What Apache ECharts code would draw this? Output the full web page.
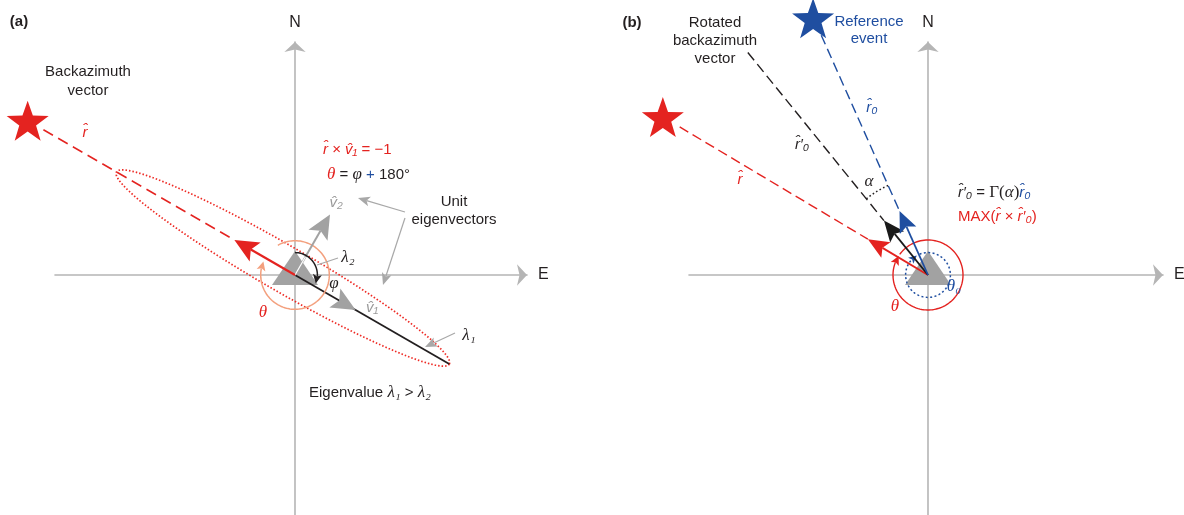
<!DOCTYPE html>
<html>
<head>
<meta charset="utf-8">
<script src="https://cdn.jsdelivr.net/npm/echarts@6/dist/echarts.min.js"></script>
<style>
  html, body { margin: 0; padding: 0; background: #fff; }
  #chart { width: 1184px; height: 515px; }
</style>
</head>
<body>
<div id="chart"></div>
<script>
// directions are azimuths (deg clockwise from N), lengths are in unit-vector lengths

// (a) backazimuth vector and eigenvectors of one event
const aBackAz = 300;               // theta, azimuth of r-hat
const aEigenAz = [120, 30];        // v1-hat, v2-hat
const aSemiAxes = [2.745, 0.33];   // ellipse lambda1, lambda2
const aEllipseCentre = -0.2;       // centre shift along v1-hat
const aStar = [300, 4.41];         // [azimuth, distance]
const aDashed = [4.15, 1];         // dashed r-hat from, to
const aV1Line = 2.545;             // black v1 line to ellipse tip
const aPhiArc = [0, 112, 0.32];    // [from az, to az, radius]
const aThetaArc = [330, 653, 0.49];
const aPointers = [                // grey leader arrows [x0, y0, x1, y1, head]
  [1.571, 0.9, 0.9, 1.1, 1],
  [1.571, 0.814, 1.257, -0.143, 1],
  [0.614, 0.243, 0.314, 0.143, 0],
  [2.286, -0.829, 1.857, -1.029, 1]
];

// (b) rotation towards the reference event
const bVectorAz = [300.8, 321, 336];       // r-hat, rotated r0, reference r0
const bDashedFrom = [4.13, 4.09, 3.75];
const bStars = [[300.8, 4.41], [335.9, 4.02]];
const bThetaCircle = [0.5, 303];           // radius, arrow azimuth
const bTheta0Circle = [0.32, 330];
const bAlphaArc = [321, 336, 1.4];

const RED = '#e42320', BLUE = '#1f4ea0', DARK = '#231f20', AXIS = '#b5b5b5',
      GRAY = '#a2a2a2', LEAD = '#a8a8a8', ORANGE = '#f3a07e';
const SANS = '"Liberation Sans", Arial, sans-serif';
const SERIF = '"Liberation Serif", "Times New Roman", serif';
const UNIT = 70;  // px per unit length

function pol(az, r) {
  const t = az * Math.PI / 180;
  return [r * Math.sin(t), r * Math.cos(t)];
}
function dirPx(az) {
  const t = az * Math.PI / 180;
  return [Math.sin(t), -Math.cos(t)];
}
function headShape(tip, d, len, hw, notch, color) {
  const px = -d[1], py = d[0];
  const bx = tip[0] - d[0] * len, by = tip[1] - d[1] * len;
  const nx = tip[0] - d[0] * (len - notch), ny = tip[1] - d[1] * (len - notch);
  return { type: 'polygon', shape: { points: [tip, [bx + px * hw, by + py * hw], [nx, ny], [bx - px * hw, by - py * hw]] },
           style: { fill: color, stroke: null } };
}
function seg(api, a, b, color, width, dash) {
  const p = api.coord(a), q = api.coord(b);
  return { type: 'line', shape: { x1: p[0], y1: p[1], x2: q[0], y2: q[1] },
           style: { stroke: color, lineWidth: width, lineDash: dash || null } };
}
function vec(api, az, len, color, width, hl, hw, notch) {
  const tip = api.coord(pol(az, len)), o = api.coord([0, 0]), d = dirPx(az);
  const end = [tip[0] - d[0] * (hl - notch), tip[1] - d[1] * (hl - notch)];
  return [
    { type: 'line', shape: { x1: o[0], y1: o[1], x2: end[0], y2: end[1] }, style: { stroke: color, lineWidth: width } },
    headShape(tip, d, hl, hw, notch, color)
  ];
}
function arcArrow(api, a0, a1, r, color, width, hl, hw, dash) {
  const R = api.size([r, 0])[0];
  const stop = hl ? a1 - (hl - 2) / R * 180 / Math.PI : a1;
  const n = Math.max(8, Math.ceil(Math.abs(stop - a0) / 3));
  const pts = [];
  for (let i = 0; i <= n; i++) pts.push(api.coord(pol(a0 + (stop - a0) * i / n, r)));
  const kids = [{ type: 'polyline', shape: { points: pts },
                  style: { stroke: color, lineWidth: width, lineDash: dash || null, fill: null } }];
  if (hl) {
    const tip = api.coord(pol(a1, r));
    const back = api.coord(pol(a1 - hl / R * 180 / Math.PI, r));
    const L = Math.hypot(tip[0] - back[0], tip[1] - back[1]);
    kids.push(headShape(tip, [(tip[0] - back[0]) / L, (tip[1] - back[1]) / L], hl, hw, 2, color));
  }
  return kids;
}
function pointer(api, p) {
  const a = api.coord([p[0], p[1]]), b = api.coord([p[2], p[3]]);
  const L = Math.hypot(b[0] - a[0], b[1] - a[1]), d = [(b[0] - a[0]) / L, (b[1] - a[1]) / L];
  const hl = 12, hw = 5;
  const e = p[4] ? [b[0] - d[0] * (hl - 3), b[1] - d[1] * (hl - 3)] : b;
  const kids = [{ type: 'line', shape: { x1: a[0], y1: a[1], x2: e[0], y2: e[1] }, style: { stroke: LEAD, lineWidth: 1.2 } }];
  if (p[4]) kids.push(headShape(b, d, hl, hw, 3, LEAD));
  return kids;
}

function renderUnderA(params, api) {
  const kids = [seg(api, pol(aBackAz, aDashed[0]), pol(aBackAz, aDashed[1]), RED, 1.5, [11, 6])];
  const pts = [];
  for (let i = 0; i <= 160; i++) {
    const t = i / 160 * 2 * Math.PI;
    const p1 = pol(aEigenAz[0], aEllipseCentre + aSemiAxes[0] * Math.cos(t));
    const p2 = pol(aEigenAz[1], aSemiAxes[1] * Math.sin(t));
    pts.push(api.coord([p1[0] + p2[0], p1[1] + p2[1]]));
  }
  kids.push({ type: 'polyline', shape: { points: pts }, style: { stroke: '#ee2a24', lineWidth: 1.7, lineDash: [1.5, 2], fill: null } });
  return { type: 'group', children: kids };
}
function renderOverA(params, api) {
  let kids = [seg(api, [0, 0], pol(aEigenAz[0], aV1Line), DARK, 1.8)];
  kids = kids.concat(arcArrow(api, aThetaArc[0], aThetaArc[1], aThetaArc[2], ORANGE, 1.5, 9, 4.5));
  kids = kids.concat(vec(api, aEigenAz[1], 1, GRAY, 2, 24, 11, 5));
  kids.push(seg(api, [0, 0], pol(aEigenAz[1], 0.3), '#ffffff', 1.2));
  kids.push(headShape(api.coord(pol(aEigenAz[0], 1)), dirPx(aEigenAz[0]), 24, 11, 5, GRAY));
  kids = kids.concat(vec(api, aBackAz, 1, RED, 2.2, 24, 11, 5));
  kids = kids.concat(arcArrow(api, aPhiArc[0], aPhiArc[1], aPhiArc[2], DARK, 1.5, 9, 4.5));
  aPointers.forEach(p => { kids = kids.concat(pointer(api, p)); });
  return { type: 'group', children: kids };
}
const bColors = [RED, DARK, BLUE];
function renderUnderB(params, api) {
  const kids = bVectorAz.map((az, i) => seg(api, pol(az, bDashedFrom[i]), pol(az, 1), bColors[i], 1.4, [10, 5]));
  return { type: 'group', children: kids };
}
function renderOverB(params, api) {
  let kids = [];
  kids = kids.concat(arcArrow(api, bThetaCircle[1] + 3 - 360, bThetaCircle[1], bThetaCircle[0], RED, 1.4, 9, 4.5));
  kids = kids.concat(arcArrow(api, bTheta0Circle[1] + 8 - 360, bTheta0Circle[1], bTheta0Circle[0], BLUE, 1.5, 8, 4, [2, 2.4]));
  bVectorAz.forEach((az, i) => { kids = kids.concat(vec(api, az, 1, i === 1 ? '#1a1a1a' : bColors[i], 1.8, 21, 9, 4)); });
  kids = kids.concat(arcArrow(api, bAlphaArc[0], bAlphaArc[1], bAlphaArc[2], DARK, 1.5, 0, 0, [1.6, 2.4]));
  return { type: 'group', children: kids };
}

function starPath() {
  let d = '';
  for (let k = 0; k < 10; k++) {
    const r = k % 2 ? 0.4 : 1, t = (-90 + 36 * k) * Math.PI / 180;
    d += (k ? 'L' : 'M') + (r * Math.cos(t)).toFixed(3) + ' ' + (r * Math.sin(t)).toFixed(3);
  }
  return 'path://' + d + 'Z';
}
const STAR = starPath();

function axes(gridIndex, xmin, xmax, ymin, ymax) {
  const common = {
    gridIndex: gridIndex, type: 'value',
    axisLine: { onZero: true, symbol: ['none', 'arrow'], symbolSize: [16, 10], lineStyle: { color: AXIS, width: 1.6 } },
    axisTick: { show: false }, axisLabel: { show: false }, splitLine: { show: false },
    nameTextStyle: { fontFamily: SANS, fontSize: 16, color: DARK }, nameLocation: 'end'
  };
  return {
    x: Object.assign({}, common, { min: xmin, max: xmax, name: 'E', nameGap: 11 }),
    y: Object.assign({}, common, { min: ymin, max: ymax, name: 'N', nameGap: 11 })
  };
}
const axA = axes(0, -240 / UNIT, 232 / UNIT, -240 / UNIT, 233 / UNIT);
const axB = axes(1, -239 / UNIT, 235 / UNIT, -240 / UNIT, 233 / UNIT);

function rs(color, italic, serif, size, weight) {
  return { fill: color, fontStyle: italic ? 'italic' : 'normal', fontFamily: serif ? SERIF : SANS,
           fontSize: size || 15, fontWeight: weight || 'normal' };
}
const RICH = {
  d: rs(DARK), r: rs(RED), b: rs(BLUE), g: rs(GRAY),
  di: rs(DARK, true), ri: rs(RED, true), bi: rs(BLUE, true), gi: rs('#9a9a9a', true),
  dg: rs(DARK, true, true, 17), rg: rs(RED, true, true, 17), bg: rs(BLUE, true, true, 17),
  dG: rs(DARK, false, true, 17), bold: rs(DARK, false, false, 15, 'bold')
};
function txt(x, y, text, align, lh) {
  return { type: 'text', x: x, y: y, z: 20, silent: true,
           style: { text: text, rich: RICH, fill: DARK, fontFamily: SANS, fontSize: 15, lineHeight: lh || 18,
                    align: align || 'center', verticalAlign: 'middle',
                    textAlign: align || 'center', textVerticalAlign: 'middle' } };
}
const HAT = '\u0302';
const texts = [
  txt(19, 22, '{bold|(a)}'),
  txt(88, 81, '{d|Backazimuth}\n{d|vector}', 'center', 19),
  txt(85, 133, '{ri|r' + HAT + '}'),
  txt(323, 150, '{ri|r' + HAT + '}{r| \u00d7 }{ri|v' + HAT + '\u2081}{r| = \u22121}', 'left'),
  txt(327, 175, '{rg|\u03b8}{d| = }{dg|\u03c6}{b| + }{d|180\u00b0}', 'left'),
  txt(336, 203, '{gi|v' + HAT + '\u2082}'),
  txt(454, 211, '{d|Unit}\n{d|eigenvectors}', 'center', 18),
  txt(348, 258, '{dg|\u03bb\u2082}'),
  txt(334, 284, '{dg|\u03c6}'),
  txt(263, 313, '{rg|\u03b8}'),
  txt(372, 308, '{gi|v' + HAT + '\u2081}'),
  txt(469, 336, '{dg|\u03bb\u2081}'),
  txt(370, 393, '{d|Eigenvalue }{dg|\u03bb\u2081}{d| > }{dg|\u03bb\u2082}'),
  txt(632, 23, '{bold|(b)}'),
  txt(715, 41, '{d|Rotated}\n{d|backazimuth}\n{d|vector}', 'center', 18),
  txt(869, 30, '{b|Reference}\n{b|event}', 'center', 17),
  txt(872, 108, '{bi|r' + HAT + '\u2080}'),
  txt(802, 145, '{di|r' + HAT + '\u2032\u2080}'),
  txt(740, 180, '{ri|r' + HAT + '}'),
  txt(869, 182, '{dg|\u03b1}'),
  txt(958, 193, '{di|r' + HAT + '\u2032\u2080}{d| = }{dG|\u0393(}{dg|\u03b1}{dG|)}{bi|r' + HAT + '\u2080}', 'left'),
  txt(958, 217, '{r|MAX(}{ri|r' + HAT + '}{r| \u00d7 }{ri|r' + HAT + '\u2032\u2080}{r|)}', 'left'),
  txt(954, 287, '{bg|\u03b8\u2080}'),
  txt(895, 307, '{rg|\u03b8}')
];

const chart = echarts.init(document.getElementById('chart'), null, { renderer: 'canvas' });
chart.setOption({
  animation: false,
  backgroundColor: '#ffffff',
  grid: [
    { left: 55, top: 42, width: 472, height: 473, containLabel: false, outerBoundsMode: 'none' },
    { left: 689, top: 42, width: 474, height: 473, containLabel: false, outerBoundsMode: 'none' }
  ],
  xAxis: [axA.x, axB.x],
  yAxis: [axA.y, axB.y],
  graphic: { elements: texts },
  series: [
    { type: 'custom', xAxisIndex: 0, yAxisIndex: 0, z: 2, clip: false, silent: true, data: [[0, 0]], renderItem: renderUnderA },
    { type: 'custom', xAxisIndex: 1, yAxisIndex: 1, z: 2, clip: false, silent: true, data: [[0, 0]], renderItem: renderUnderB },
    { type: 'scatter', xAxisIndex: 0, yAxisIndex: 0, z: 3, clip: false, silent: true,
      symbol: 'triangle', symbolSize: [46, 34], symbolOffset: [0, -7], itemStyle: { color: GRAY, opacity: 1 }, data: [[0, 0]] },
    { type: 'scatter', xAxisIndex: 1, yAxisIndex: 1, z: 3, clip: false, silent: true,
      symbol: 'triangle', symbolSize: [46, 34], symbolOffset: [0, -7], itemStyle: { color: GRAY, opacity: 1 }, data: [[0, 0]] },
    { type: 'scatter', xAxisIndex: 0, yAxisIndex: 0, z: 3, clip: false, silent: true, symbol: STAR, symbolSize: [42, 40],
      data: [{ value: pol(aStar[0], aStar[1]), itemStyle: { color: RED, opacity: 1 } }] },
    { type: 'scatter', xAxisIndex: 1, yAxisIndex: 1, z: 3, clip: false, silent: true, symbol: STAR, symbolSize: [42, 40],
      data: bStars.map((s, i) => ({ value: pol(s[0], s[1]), itemStyle: { color: i ? BLUE : RED, opacity: 1 } })) },
    { type: 'custom', xAxisIndex: 0, yAxisIndex: 0, z: 4, clip: false, silent: true, data: [[0, 0]], renderItem: renderOverA },
    { type: 'custom', xAxisIndex: 1, yAxisIndex: 1, z: 4, clip: false, silent: true, data: [[0, 0]], renderItem: renderOverB }
  ]
});
window.addEventListener('resize', () => chart.resize());
</script>
</body>
</html>
